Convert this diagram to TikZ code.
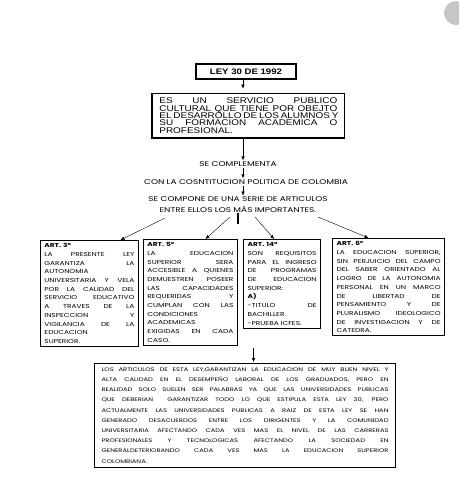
\documentclass[tikz,border=0pt]{standalone}
\usepackage{fontspec}
\setmainfont{Liberation Sans}
\newfontfamily\artfont[FakeStretch=1.3]{Poppins}
\newfontfamily\descfont[FakeStretch=1.2]{Liberation Sans}
\usetikzlibrary{positioning,calc,arrows.meta}
\tikzset{>={Latex[length=4pt,width=3.5pt]}}
\tikzset{artbox/.style={draw,line width=0.9pt,anchor=north west,inner xsep=4pt,inner ysep=3pt,align=left,font=\artfont\fontsize{5.7}{8.7}\selectfont}}
\tikzset{midtext/.style={inner sep=1pt,align=center,font=\artfont\fontsize{6.9}{11}\selectfont}}
\newcommand{\jl}[1]{\makebox[\linewidth][s]{\spaceskip=0pt\xspaceskip=0pt\relax #1}\\}

\begin{document}
\begin{tikzpicture}[x=1pt,y=-1pt]
\useasboundingbox (0,0) rectangle (459,480);
\clip (0,0) rectangle (459,480);
\fill[gray!45] (456,13) circle (12);

		\coordinate (axis) at (243,0);
		\node[draw,line width=1.3pt,minimum width=100pt,minimum height=15pt,inner sep=0pt,font=\descfont\bfseries\fontsize{8}{9}\selectfont] (ley) at (246,71.5) {LEY 30 DE 1992};
		\node[draw,line width=0.8pt,anchor=north west,text width=178pt,inner xsep=7pt,inner ysep=4.5pt,align=left,font=\descfont\fontsize{8.3}{7.4}\selectfont] (serv) at (152,93) {%
			\jl{ES UN SERVICIO PUBLICO}
			\jl{CULTURAL QUE TIENE POR OBEJTO}
			\jl{EL DESARROLLO DE LOS ALUMNOS Y}
			\jl{SU FORMACION ACADEMICA O}
			PROFESIONAL.};
		\draw[line width=1.6pt] (serv.north west) -- (serv.south west) -- (serv.south east);

		\node[midtext] (compl) at (238,164) {SE COMPLEMENTA};
		\node[midtext] (const) at (246,182) {CON LA COSNTITUCION POLITICA DE COLOMBIA};
		\node[midtext,font=\artfont\fontsize{6.9}{10.5}\selectfont] (compone) at (238,204.5) {SE COMPONE DE UNA SERIE DE ARTICULOS\\ENTRE ELLOS LOS MÁS IMPORTANTES.};

		\draw[->] (ley.south -| axis) -- ++(0,9);
		\draw[->] (serv.south -| axis) -- (compl.north -| axis);
		\draw[->] (compl.south -| axis) -- (const.north -| axis);
		\draw[->] (const.south -| axis) -- (compone.north -| axis);

		\node[artbox,text width=90pt] (art3) at (40,240) {%
			\textbf{ART. 3°}\\
			\jl{LA PRESENTE LEY}
			\jl{GARANTIZA LA}
			AUTONOMIA\\
			\jl{UNIVERSITARIA Y VELA}
			\jl{POR LA CALIDAD DEL}
			\jl{SERVICIO EDUCATIVO}
			\jl{A TRAVES DE LA}
			\jl{INSPECCION Y}
			\jl{VIGILANCIA DE LA}
			EDUCACION\\
			SUPERIOR.};
		\node[artbox,text width=86pt] (art5) at (143,239) {%
			\textbf{ART. 5°}\\
			\jl{LA EDUCACION}
			\jl{SUPERIOR SERA}
			\jl{ACCESIBLE A QUIENES}
			\jl{DEMUESTREN POSEER}
			\jl{LAS CAPACIDADES}
			\jl{REQUERIDAS Y}
			\jl{CUMPLAN CON LAS}
			CONDICIONES\\
			ACADEMICAS\\
			\jl{EXIGIDAS EN CADA}
			CASO.};
		\node[artbox,line width=1.2pt,text width=69pt] (art14) at (243,239) {%
			\textbf{ART. 14°}\\
			\jl{SON REQUISITOS}
			\jl{PARA EL INGRESO}
			\jl{DE PROGRAMAS}
			\jl{DE EDUCACION}
			SUPERIOR:\\
			\textbf{A)}\\
			\jl{-TITULO DE}
			BACHILLER.\\
			-PRUEBA ICFES.};
		\node[artbox,line width=1.2pt,text width=104pt] (art6) at (332,238) {%
			\textbf{ART. 6°}\\
			\jl{LA EDUCACION SUPERIOR,}
			\jl{SIN PERJUICIO DEL CAMPO}
			\jl{DEL SABER ORIENTADO AL}
			\jl{LOGRO DE LA AUTONOMIA}
			\jl{PERSONAL EN UN MARCO}
			\jl{DE LIBERTAD DE}
			\jl{PENSAMIENTO Y DE}
			\jl{PLURALISMO IDEOLOGICO}
			\jl{DE INVESTIGACION Y DE}
			CATEDRA.};

		\coordinate (s1) at (165,218);
		\coordinate (s2) at (230,217);
		\coordinate (s3) at (255,217);
		\coordinate (s4) at (318,217);
		\draw[line width=1.6pt] (compone.south) -- ++(0,11);
		\draw[->] (s1) -- ($(art3.north)+(31,0)$);
		\draw[->] (s2) -- ($(art5.north)+(15,0)$);
		\draw[->] (s3) -- ($(art14.north)+(-8,0)$);
		\draw[->] (s4) -- ($(art6.north)+(-20,0)$);

		\node[artbox,line width=1.1pt,text width=287pt,inner xsep=7pt,inner ysep=4pt,font=\artfont\fontsize{5.2}{10.2}\selectfont] (ccl) at (94,363) {%
			\jl{LOS ARTICULOS DE ESTA LEY,GARANTIZAN LA EDUCACION DE MUY BUEN NIVEL Y}
			\jl{ALTA CALIDAD EN EL DESEMPEÑO LABORAL DE LOS GRADUADOS, PERO EN}
			\jl{REALIDAD SOLO SUELEN SER PALABRAS YA QUE LAS UNIVERSIDADES PUBLICAS}
			\jl{QUE DEBERIAN \ GARANTIZAR TODO LO QUE ESTIPULA ESTA LEY 30, PERO}
			\jl{ACTUALMENTE LAS UNIVERSIDADES PUBLICAS A RAIZ DE ESTA LEY SE HAN}
			\jl{GENERADO DESACUERDOS ENTRE LOS DIRIGENTES Y LA COMUNIDAD}
			\jl{UNIVERSITARIA AFECTANDO CADA VES MAS EL NIVEL DE LAS CARRERAS}
			\jl{PROFESIONALES Y TECNOLOGICAS AFECTANDO LA SOCIEDAD EN}
			\jl{GENERALDETERIORANDO CADA VES MAS LA EDUCACION SUPERIOR}
			COLOMBIANA.};
		\draw[->] ($(ccl.north)+(8.5,-15)$) -- ($(ccl.north)+(8.5,-1)$);
\end{tikzpicture}
\end{document}
